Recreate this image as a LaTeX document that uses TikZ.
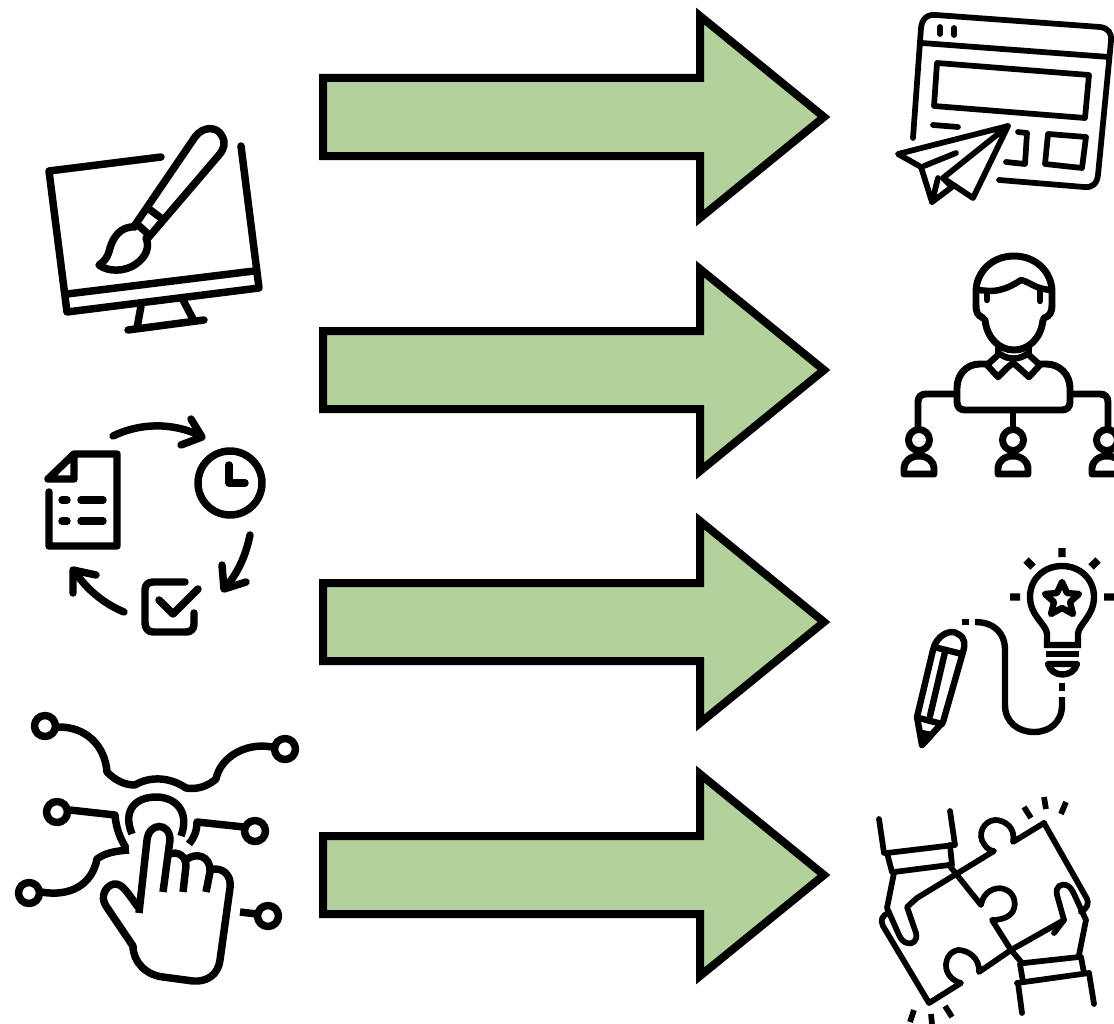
\documentclass[tikz,border=0pt]{standalone}
\definecolor{arrowgreen}{HTML}{B3D29B}
\tikzset{
  icon/.style={draw=black,line width=5.2pt,line cap=round,line join=round},
  thin icon/.style={draw=black,line width=4.3pt,line cap=round,line join=round},
  mid icon/.style={draw=black,line width=4.8pt,line cap=round,line join=round},
  left icon/.style={draw=black,line width=5.6pt,line cap=round,line join=round},
  bigarrow/.style={draw=black,fill=arrowgreen,line width=6pt,miter limit=10,line join=miter},
}
\begin{document}
\begin{tikzpicture}[x=0.75pt,y=-0.75pt]
\useasboundingbox (0,0) rectangle (1114,1024);
% arrows
\foreach \cy in {117,370,622,875}{
  \draw[bigarrow] (323,\cy-39) -- (700,\cy-39) -- (700,\cy-101) -- (824,\cy) -- (700,\cy+101) -- (700,\cy+39) -- (323,\cy+39) -- cycle;
}
% monitor + brush
\draw[left icon] (161,157) -- (49,171) -- (67,312) -- (259,288) -- (241,146);
\draw[left icon] (67,294) -- (254,271);
\draw[left icon] (141,306) -- (137,328);
\draw[left icon] (183,300) -- (193,319);
\draw[left icon] (128,330) -- (204,320);
\draw[left icon] (135,225) -- (195,137) .. controls (203,126) and (217,126) .. (222,136) .. controls (226,143) and (224,149) .. (219,155) -- (148,238);
\draw[left icon] (149,209) -- (161,218);
\draw[left icon] (137,224) -- (148,234);
\draw[left icon] (135,227) .. controls (120,226) and (113,238) .. (110,248) .. controls (108,257) and (104,262) .. (99,265) .. controls (108,272) and (125,272) .. (136,264) .. controls (146,257) and (150,247) .. (146,238);
% cycle icon
\draw[left icon] (113,436) .. controls (140,423) and (172,422) .. (201,436);
\draw[left icon] (191,419) -- (202,437) -- (181,445);
\draw[left icon] (230,483) circle (32);
\draw[left icon] (229,465) -- (229,483) -- (245,483);
\draw[left icon] (250,535) .. controls (246,555) and (238,573) .. (225,588);
\draw[left icon] (222,565) -- (224,589) -- (246,582);
\draw[left icon] (185,582) -- (153,582) .. controls (148,582) and (145,585) .. (145,590) -- (145,623) .. controls (145,628) and (148,632) .. (153,632) -- (186,632) .. controls (191,632) and (194,629) .. (194,624) -- (194,613);
\draw[left icon] (159,600) -- (173,614) -- (198,589);
\draw[left icon] (124,612) .. controls (105,604) and (88,591) .. (75,572);
\draw[left icon] (73,593) -- (73,570) -- (96,575);
\draw[left icon] (49,492) -- (49,546) -- (117,546) -- (117,454) -- (74,454) -- (48,479) -- (74,479) -- (74,454);
\draw[left icon] (62,500) -- (67,500) (81,500) -- (103,500) (62,521) -- (67,521) (81,521) -- (103,521);
% touch icon
\foreach \px/\py in {45/726,285/749,57/812,255/831,29/893,268/916}{
  \draw[left icon] (\px,\py) circle (10.5);
}
\draw[left icon,line cap=butt] (57,727) .. controls (85,726) and (105,745) .. (107,772) .. controls (115,780) and (124,785) .. (135,785) .. controls (150,776) and (170,777) .. (186,788) .. controls (197,790) and (208,786) .. (216,779) .. controls (220,758) and (245,742) .. (272,747);
\draw[left icon,line cap=butt] (70,810) -- (115,815) .. controls (116,828) and (120,838) .. (126,848);
\draw[left icon,line cap=butt] (41,892) .. controls (70,897) and (92,885) .. (97,859) .. controls (105,853) and (115,851) .. (129,850);
\draw[left icon,line cap=butt] (244,827) -- (197,822) .. controls (197,831) and (194,838) .. (189,844);
\draw[left icon,line cap=butt] (240,912) -- (257,914);
\draw[left icon,line cap=butt] (132,834) .. controls (122,810) and (136,797) .. (156,797) .. controls (176,797) and (190,812) .. (181,836);
\draw[left icon,line join=miter,line cap=butt] (139,913) -- (147,840) .. controls (149,822) and (170,822) .. (170,840) -- (163,892);
\draw[left icon,line cap=butt] (170,854) .. controls (178,851) and (186,856) .. (186,866) -- (183,892);
\draw[left icon,line cap=butt] (186,860) .. controls (195,852) and (211,855) .. (210,872) -- (206,892);
\draw[left icon] (210,870) .. controls (222,866) and (232,875) .. (230,888) -- (220,960) .. controls (218,975) and (207,982) .. (193,981) -- (163,977) .. controls (146,975) and (133,962) .. (133,946) -- (106,906) .. controls (100,897) and (105,886) .. (114,884) .. controls (122,883) and (127,892) .. (138,907);
% web page + plane
\draw[thin icon] (913,138) -- (921,28) .. controls (922,19) and (927,14) .. (936,15) -- (1100,27) .. controls (1108,28) and (1112,33) .. (1111,41) -- (1098,175) .. controls (1097,184) and (1092,188) .. (1084,187) -- (999,180);
\draw[thin icon] (922,43) -- (1109,57);
\draw[thin icon] (940,27) -- (940,34) (954,28) -- (954,35);
\draw[thin icon] (937,63) -- (1089,75) -- (1085,118) -- (934,106) -- cycle;
\draw[thin icon] (933,125) -- (958,127);
\draw[thin icon] (1018,132) -- (1027,133) -- (1025,164) -- (1006,162);
\draw[thin icon] (1048,134) -- (1086,137) -- (1082,168) -- (1045,164) -- cycle;
\draw[thin icon] (1008,126) -- (898,154) -- (921,167) -- (932,202) -- (952,187) -- (943,178) -- (1008,126) -- (973,198) -- (943,178);
\draw[thin icon] (924,166) -- (956,153);
\draw[thin icon] (932,202) -- (938,178);
% person org
\draw[icon] (983,318) .. controls (977,315) and (976,312) .. (976,305) -- (976,292) .. controls (976,272) and (992,256) .. (1014,256) .. controls (1036,256) and (1052,272) .. (1052,292) -- (1052,305) .. controls (1052,312) and (1050,316) .. (1044,318);
\draw[icon] (985,320) .. controls (987,338) and (999,350) .. (1014,350) .. controls (1029,350) and (1041,338) .. (1043,320);
\draw[mid icon] (977,290) -- (990,291) .. controls (1002,291) and (1012,286) .. (1021,280) .. controls (1030,282) and (1035,289) .. (1051,290);
\draw[mid icon] (987,292) -- (987,300) (1040,290) -- (1040,301);
\draw[mid icon] (998,348) -- (998,355) (1029,348) -- (1029,355);
\draw[mid icon] (1000,354) .. controls (1008,360) and (1019,360) .. (1027,354);
\draw[mid icon] (998,355) -- (987,365) -- (998,377) -- (1008,367) -- (1013,363) -- (1018,367) -- (1029,377) -- (1040,365) -- (1029,355);
\draw[icon] (987,364) -- (980,364) .. controls (966,364) and (957,375) .. (957,388) -- (957,402) .. controls (957,407) and (960,410) .. (965,410) -- (1062,410) .. controls (1067,410) and (1070,407) .. (1070,402) -- (1070,388) .. controls (1070,375) and (1060,364) .. (1046,364) -- (1040,364);
\draw[icon] (955,394) -- (926,394) .. controls (921,394) and (918,397) .. (918,402) -- (918,427);
\draw[icon] (1072,394) -- (1100,394) .. controls (1105,394) and (1108,397) .. (1108,402) -- (1108,427);
\draw[icon] (1013,412) -- (1013,427);
\foreach \px in {919,1013,1107}{
  \draw[icon] (\px,440) circle (10.5);
  \draw[icon] (\px-15,474) -- (\px-15,468) .. controls (\px-15,462) and (\px-9,456) .. (\px,456) .. controls (\px+9,456) and (\px+15,462) .. (\px+15,468) -- (\px+15,474) -- cycle;
}
% bulb + pencil
\draw[icon,line cap=butt,line width=5.6pt] (1062,548) -- (1062,557) (1010,597) -- (1020,597) (1104,597) -- (1114,597) (1026,560) -- (1033,567) (1098,560) -- (1091,567);
\draw[mid icon,line join=miter] (1047,645) -- (1047,634) .. controls (1047,625) and (1030,616) .. (1030,597) .. controls (1030,579) and (1044,566) .. (1062,566) .. controls (1080,566) and (1094,579) .. (1094,597) .. controls (1094,616) and (1078,625) .. (1078,634) -- (1078,645) -- cycle;
\draw[icon,line cap=butt] (1046,654) -- (1079,654);
\draw[mid icon] (1048,664) -- (1077,664) .. controls (1073,678) and (1052,678) .. (1048,664) -- cycle;
\draw[icon,line cap=butt] (1062,683) -- (1062,691);
\draw[mid icon] (1062,582) -- (1067,593) -- (1079,594) -- (1070,602) -- (1073,614) -- (1062,608) -- (1051,614) -- (1054,602) -- (1045,594) -- (1057,593) -- cycle;
\draw[mid icon,line cap=butt] (1062,697) -- (1062,705) .. controls (1062,722) and (1050,732) .. (1034,732) .. controls (1018,732) and (1005,722) .. (1005,705) -- (1005,650) .. controls (1005,632) and (993,622) .. (975,622);
\draw[icon,line cap=butt] (962,622) -- (969,622);
\draw[mid icon] (917,717) -- (933,650) .. controls (936,636) and (950,628) .. (958,634) .. controls (966,638) and (965,646) .. (963,652) -- (943,722) -- (922,745) -- cycle;
\draw[mid icon] (938,648) -- (962,654);
\draw[mid icon] (945,652) -- (930,716);
\draw[mid icon] (919,718) -- (942,724);
\draw[mid icon] (922,733) -- (931,735) -- (922,745);
% puzzle
\draw[thin icon] (1044,823) -- (1086,897) .. controls (1090,904) and (1087,908) .. (1081,912);
\draw[thin icon] (1044,823) -- (1013,842) .. controls (1016,828) and (1005,820) .. (995,820) .. controls (983,821) and (977,835) .. (984,844) .. controls (987,849) and (991,851) .. (994,851) -- (917,898) -- (907,907) -- (916,933) .. controls (918,941) and (912,945) .. (907,943) .. controls (903,942) and (901,939) .. (899,935) -- (887,908) -- (894,873);
\draw[thin icon] (894,872) -- (949,865);
\draw[thin icon] (887,853) -- (954,845);
\draw[thin icon] (887,853) -- (892,872);
\draw[thin icon] (950,845) -- (952,865);
\draw[thin icon] (879,819) -- (884,853);
\draw[thin icon] (950,811) -- (955,845);
\draw[thin icon] (949,865) -- (981,905) .. controls (983,892) and (995,886) .. (1004,889) .. controls (1014,892) and (1017,903) .. (1013,911) .. controls (1009,918) and (1000,920) .. (992,920) -- (1011,950) -- (979,972) .. controls (980,958) and (968,950) .. (958,950) .. controls (946,952) and (943,967) .. (949,975) .. controls (952,979) and (956,982) .. (961,983) -- (929,1003) -- (883,926) .. controls (880,920) and (882,915) .. (889,913);
\draw[thin icon] (1011,950) -- (1064,920) -- (1057,895) .. controls (1055,885) and (1062,884) .. (1066,885) .. controls (1070,886) and (1072,890) .. (1074,894) -- (1086,920) -- (1079,955);
\draw[thin icon] (1064,920) -- (1054,933);
\draw[thin icon] (1024,963) -- (1079,957);
\draw[thin icon] (1017,983) -- (1089,973);
\draw[thin icon] (1020,964) -- (1023,982);
\draw[thin icon] (1081,957) -- (1084,973);
\draw[thin icon] (1011,950) -- (1022,963);
\draw[thin icon] (1018,983) -- (1022,1013);
\draw[thin icon] (1089,973) -- (1094,1004);
\draw[thin icon,line cap=butt] (1024,807) -- (1031,818) (1044,797) -- (1046,809) (1066,802) -- (1061,814) (914,1010) -- (910,1022) (931,1014) -- (932,1024) (945,1006) -- (952,1017);
\end{tikzpicture}
\end{document}
